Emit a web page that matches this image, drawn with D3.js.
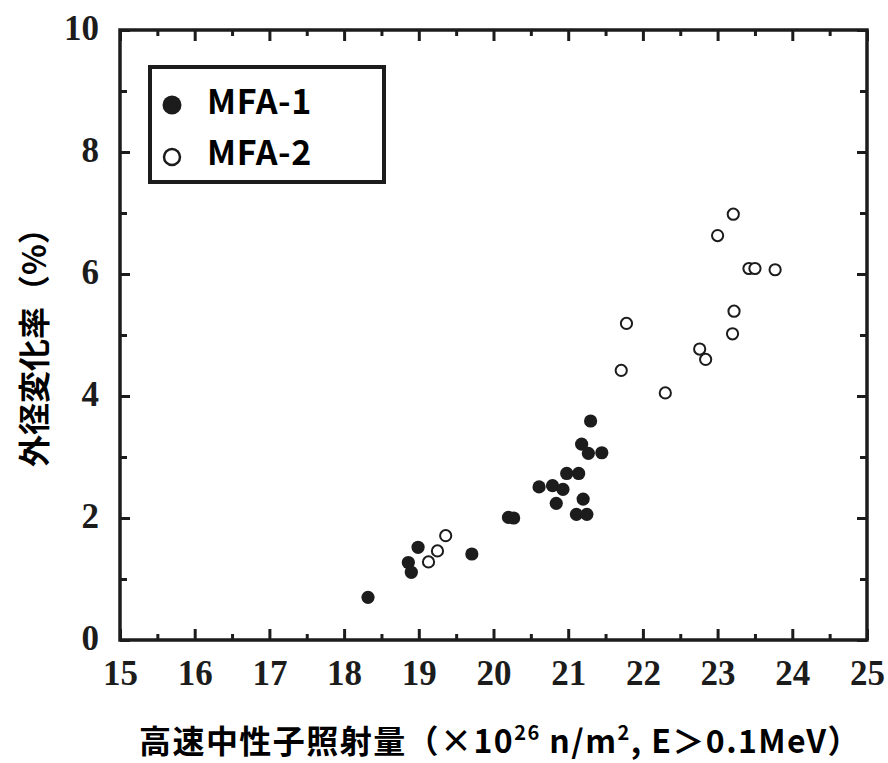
<!DOCTYPE html>
<html><head><meta charset="utf-8">
<script src="https://cdn.jsdelivr.net/npm/d3@7/dist/d3.min.js"></script>
<style>
html,body{margin:0;padding:0;background:#fff;}
svg{display:block;}
</style></head>
<body>
<svg id="chart" width="888" height="763"></svg>
<script>
// ---- data ----
const seriesNames = ["MFA-1", "MFA-2"];
const mfa1X = [18.32, 18.99, 18.86, 18.90, 19.71, 20.20, 20.27, 20.61, 20.79, 20.93, 20.84, 20.98, 21.14, 21.20, 21.11, 21.25, 21.18, 21.27, 21.45, 21.30];
const mfa1Y = [0.70, 1.52, 1.27, 1.11, 1.41, 2.01, 2.00, 2.51, 2.53, 2.47, 2.24, 2.73, 2.73, 2.31, 2.06, 2.06, 3.21, 3.06, 3.07, 3.59];
const mfa2X = [19.13, 19.25, 19.36, 23.21, 23.00, 23.42, 23.50, 23.77, 23.22, 23.20, 21.78, 21.71, 22.76, 22.84, 22.30];
const mfa2Y = [1.28, 1.46, 1.71, 6.98, 6.63, 6.09, 6.09, 6.07, 5.39, 5.02, 5.19, 4.42, 4.77, 4.60, 4.05];
const xMajorTicks = [15, 16, 17, 18, 19, 20, 21, 22, 23, 24, 25];
const xMinorTicks = [15.5, 16.5, 17.5, 18.5, 19.5, 20.5, 21.5, 22.5, 23.5, 24.5];
const yMajorTicks = [0, 2, 4, 6, 8, 10];
const yMinorTicks = [1, 3, 5, 7, 9];
const xTitleMain = "高速中性子照射量（×10";
const xTitleSup1 = "26";
const xTitleMid = " n/m";
const xTitleSup2 = "2";
const xTitleEnd = ", E＞0.1MeV）";
const yTitle = "外径変化率（%）";

// ---- layout ----
const svg = d3.select("#chart");
const L = 120, R = 867, T = 30, B = 640;
const x = d3.scaleLinear().domain([15, 25]).range([L, R]);
const y = d3.scaleLinear().domain([0, 10]).range([B, T]);
const ink = "#1c1c1c";
const serif = "'Liberation Serif','Times New Roman',serif";
const gothic = "'Noto Sans CJK JP','Noto Sans',sans-serif";

function tickAxis(axisFn, scale, vals, size, transform, labels) {
  const a = axisFn(scale).tickValues(vals).tickSizeInner(-size).tickSizeOuter(0).tickPadding(12);
  if (!labels) a.tickFormat("");
  const g = svg.append("g").attr("transform", transform).call(a);
  g.select(".domain").remove();
  g.selectAll(".tick line").attr("stroke", ink).attr("stroke-width", 3);
  return g;
}
// bottom
const gxb = tickAxis(d3.axisBottom, x, xMajorTicks, 11, `translate(0,${B})`, true);
tickAxis(d3.axisBottom, x, xMinorTicks, 6, `translate(0,${B})`, false);
// top
tickAxis(d3.axisTop, x, xMajorTicks, 11, `translate(0,${T})`, false);
tickAxis(d3.axisTop, x, xMinorTicks, 6, `translate(0,${T})`, false);
// left
const gyl = tickAxis(d3.axisLeft, y, yMajorTicks, 10, `translate(${L},0)`, true);
tickAxis(d3.axisLeft, y, yMinorTicks, 7, `translate(${L},0)`, false);
// right
tickAxis(d3.axisRight, y, yMajorTicks, 10, `translate(${R},0)`, false);
tickAxis(d3.axisRight, y, yMinorTicks, 7, `translate(${R},0)`, false);

gxb.selectAll(".tick text").attr("font-family", serif).attr("font-weight", "bold")
  .attr("font-size", 35).attr("fill", ink).attr("y", 0).attr("dy", "1.28em");
gyl.selectAll(".tick text").attr("font-family", serif).attr("font-weight", "bold")
  .attr("font-size", 35).attr("fill", ink).attr("x", -21).attr("dy", "0.28em");

// frame
svg.append("rect").attr("x", L).attr("y", T).attr("width", R - L).attr("height", B - T)
  .attr("fill", "none").attr("stroke", ink).attr("stroke-width", 3.5);

// points
const pts1 = mfa1X.map((v, i) => [v, mfa1Y[i]]);
const pts2 = mfa2X.map((v, i) => [v, mfa2Y[i]]);
svg.append("g").selectAll("circle").data(pts1).join("circle")
  .attr("cx", d => x(d[0])).attr("cy", d => y(d[1])).attr("r", 6.6).attr("fill", ink);
svg.append("g").selectAll("circle").data(pts2).join("circle")
  .attr("cx", d => x(d[0])).attr("cy", d => y(d[1])).attr("r", 5.6)
  .attr("fill", "#fff").attr("stroke", ink).attr("stroke-width", 2);

// legend
svg.append("rect").attr("x", 150).attr("y", 67).attr("width", 234).attr("height", 115)
  .attr("fill", "#fff").attr("stroke", ink).attr("stroke-width", 4);
svg.append("circle").attr("cx", 172).attr("cy", 105).attr("r", 9.5).attr("fill", ink);
svg.append("circle").attr("cx", 172).attr("cy", 157).attr("r", 8).attr("fill", "#fff")
  .attr("stroke", ink).attr("stroke-width", 2.5);
[[seriesNames[0], 114], [seriesNames[1], 165]].forEach(([t, yy]) => {
  const tx = svg.append("text").attr("x", 207).attr("y", yy).text(t)
    .attr("font-family", gothic).attr("font-weight", "bold").attr("font-size", 34)
    .attr("fill", "#000");
  const len = tx.node().getComputedTextLength();
  tx.attr("letter-spacing", (105 - len) / t.length);
});

// x title
const xt = svg.append("text").attr("x", 139).attr("y", 753)
  .attr("font-family", gothic).attr("font-weight", "bold").attr("font-size", 32).attr("fill", "#000");
xt.append("tspan").text(xTitleMain);
xt.append("tspan").text(xTitleSup1).attr("font-size", 20).attr("dy", -13);
xt.append("tspan").text(xTitleMid).attr("dy", 13);
xt.append("tspan").text(xTitleSup2).attr("font-size", 20).attr("dy", -13);
xt.append("tspan").text(xTitleEnd).attr("dy", 13);
{
  const target = 722;
  const len = xt.node().getComputedTextLength();
  const n = (xTitleMain + xTitleSup1 + xTitleMid + xTitleSup2 + xTitleEnd).length;
  xt.attr("letter-spacing", (target - len) / n);
}

// y title
svg.append("text").attr("transform", "translate(46,467) rotate(-90)")
  .attr("text-anchor", "start")
  .attr("font-family", gothic).attr("font-weight", "bold").attr("font-size", 32).attr("fill", "#000")
  .text(yTitle);
</script>
</body></html>
